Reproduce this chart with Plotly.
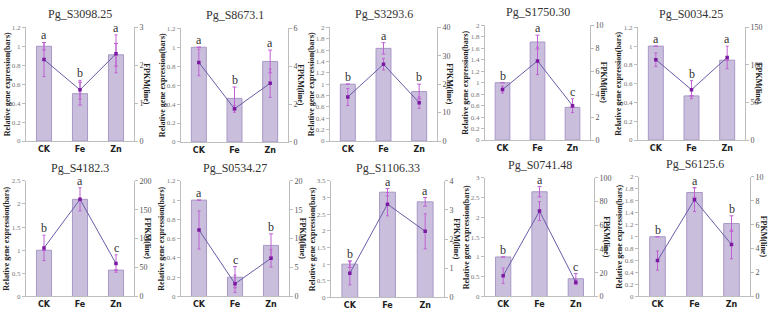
import plotly.graph_objects as go

W, H = 771, 318
categories = ["CK", "Fe", "Zn"]

titles = ["Pg_S3098.25", "Pg_S8673.1", "Pg_S3293.6", "Pg_S1750.30", "Pg_S0034.25",
          "Pg_S4182.3", "Pg_S0534.27", "Pg_S1106.33", "Pg_S0741.48", "Pg_S6125.6"]

rel_expr = [[1.0, 0.50, 0.91], [1.0, 0.46, 0.85], [1.0, 1.63, 0.87], [1.0, 1.71, 0.57], [1.0, 0.47, 0.85],
            [1.0, 2.10, 0.57], [1.0, 0.20, 0.53], [1.0, 3.16, 2.87], [1.0, 2.65, 0.45], [1.0, 1.74, 1.22]]
rel_err = [[0.04, 0.12, 0.12], [0.0, 0.12, 0.12], [0.0, 0.10, 0.13], [0.0, 0.12, 0.0], [0.0, 0.0, 0.0],
           [0.0, 0.0, 0.0], [0.0, 0.11, 0.12], [0.10, 0.11, 0.13], [0.0, 0.13, 0.13], [0.0, 0.08, 0.13]]
fpkm = [[2.15, 1.35, 2.30], [4.2, 1.75, 3.1], [15.5, 27.0, 13.5], [4.4, 6.9, 3.0], [107, 67, 110],
        [84, 168, 57], [11.5, 2.2, 6.6], [0.83, 3.2, 2.27], [17.5, 72, 12], [3.0, 8.1, 4.35]]
fpkm_err = [[0.45, 0.25, 0.5], [0.7, 0.18, 0.75], [3.0, 2.0, 2.0], [0.3, 1.2, 0.6], [9, 12, 15],
            [22, 20, 15], [3.3, 1.5, 1.5], [0.4, 0.4, 0.6], [6.5, 8, 2], [0.8, 1.0, 1.2]]
letters = [["a", "b", "a"], ["a", "b", "a"], ["b", "a", "b"], ["b", "a", "c"], ["a", "b", "a"],
           ["b", "a", "c"], ["a", "c", "b"], ["b", "a", "a"], ["b", "a", "c"], ["b", "a", "b"]]
left_max = [1.2, 1.2, 2.0, 2.0, 1.2, 2.5, 1.2, 3.5, 3.0, 2.0]
left_step = [0.2, 0.2, 0.2, 0.2, 0.2, 0.5, 0.2, 0.5, 0.5, 0.2]
right_max = [3, 6, 40, 10, 150, 200, 20, 4, 100, 10]
right_step = [1, 2, 10, 2, 50, 50, 5, 1, 20, 2]

# plot-area boxes in pixels: left, right, top, bottom
boxes = [(26, 134, 24, 141), (181, 288, 25, 142), (330, 437, 24, 141), (485, 590, 22, 140), (638, 745, 24, 140),
         (26, 134, 182, 301), (181, 289, 182, 301), (331, 444, 182, 302), (485, 594, 179, 301), (639, 750, 178, 301)]

BAR_FILL = "#CABEDD"
BAR_LINE = "#A898C6"
LINE_COL = "#6B5BAA"
MARK_COL = "#7A1AA0"
ERR_COL = "#C060D2"
AXIS_COL = "#BDBDBD"
SERIF = "Liberation Serif, Times New Roman, serif"
SANS = "DejaVu Sans, Arial, sans-serif"

fig = go.Figure()
layout = dict(width=W, height=H, margin=dict(l=0, r=0, t=0, b=0),
              plot_bgcolor="white", paper_bgcolor="white", showlegend=False)
annotations = []


def fmt(v):
    s = ("%.1f" % v).rstrip("0").rstrip(".")
    return s


for i in range(10):
    l, r, t, b = boxes[i]
    xn = "" if i == 0 else str(i + 1)
    yl = str(2 * i + 1) if i > 0 else ""
    yr = str(2 * i + 2)
    xid, ylid, yrid = "x" + xn, "y" + yl, "y" + yr
    xdom = [l / W, r / W]
    ydom = [1 - b / H, 1 - t / H]
    scale = left_max[i] / right_max[i]

    fig.add_trace(go.Bar(x=categories, y=rel_expr[i], xaxis=xid, yaxis=ylid, width=0.42,
                         marker=dict(color=BAR_FILL, line=dict(color=BAR_LINE, width=1)),
                         error_y=dict(type="data", array=rel_err[i], color=ERR_COL, thickness=1, width=2)))
    fig.add_trace(go.Scatter(x=categories, y=fpkm[i], xaxis=xid, yaxis=yrid, mode="lines+markers",
                             line=dict(color=LINE_COL, width=1),
                             marker=dict(symbol="square", size=3.5, color=MARK_COL),
                             error_y=dict(type="data", array=fpkm_err[i], color=ERR_COL, thickness=1, width=1.5)))

    ltick = [round(k * left_step[i], 2) for k in range(int(round(left_max[i] / left_step[i])) + 1)]
    rtick = [k * right_step[i] for k in range(int(round(right_max[i] / right_step[i])) + 1)]

    layout["xaxis" + xn] = dict(domain=xdom, anchor=ylid, showline=True, linecolor=AXIS_COL, linewidth=1,
                                ticks="", tickvals=categories, ticktext=["<b>%s</b>" % c for c in categories],
                                tickfont=dict(family=SANS, size=8, color="#222"),
                                showgrid=False, zeroline=False, fixedrange=True)
    layout["yaxis" + yl] = dict(domain=ydom, anchor=xid, range=[0, left_max[i]], tickvals=ltick,
                                ticktext=[fmt(v) for v in ltick], showline=True, linecolor=AXIS_COL,
                                ticks="outside", ticklen=3, tickcolor=AXIS_COL,
                                tickfont=dict(family=SERIF, size=7, color="#777"),
                                showgrid=False, zeroline=False)
    layout["yaxis" + yr] = dict(overlaying=ylid, anchor=xid, side="right", range=[0, right_max[i]],
                                tickvals=rtick, showline=True, linecolor=AXIS_COL,
                                ticks="outside", ticklen=3, tickcolor=AXIS_COL,
                                tickfont=dict(family=SERIF, size=8, color="#555"),
                                showgrid=False, zeroline=False)

    # title
    annotations.append(dict(text=titles[i], xref="paper", yref="paper", x=(xdom[0] + xdom[1]) / 2,
                            y=1 - (t - 4) / H, xanchor="center", yanchor="bottom", showarrow=False,
                            font=dict(family=SERIF, size=12, color="#333")))
    # axis titles
    annotations.append(dict(text="<b>Relative gene expression(bars)</b>", xref="paper", yref="paper",
                            x=(l - 19) / W, y=(ydom[0] + ydom[1]) / 2, textangle=-90, showarrow=False,
                            xanchor="center", yanchor="middle", font=dict(family=SERIF, size=8, color="#222")))
    annotations.append(dict(text="<b>FPKM(line)</b>", xref="paper", yref="paper",
                            x=(r + 13) / W, y=(ydom[0] + ydom[1]) / 2, textangle=90, showarrow=False,
                            xanchor="center", yanchor="middle", font=dict(family=SERIF, size=8, color="#222")))
    # significance letters
    for j, c in enumerate(categories):
        top = max(rel_expr[i][j] + rel_err[i][j], (fpkm[i][j] + fpkm_err[i][j]) * scale)
        annotations.append(dict(text=letters[i][j], xref=xid, yref=ylid, x=c, y=top, yanchor="bottom",
                                showarrow=False, yshift=-2,
                                font=dict(family=SERIF, size=12, color="#333")))

layout["annotations"] = annotations
fig.update_layout(**layout)
fig.write_html("out.html")
